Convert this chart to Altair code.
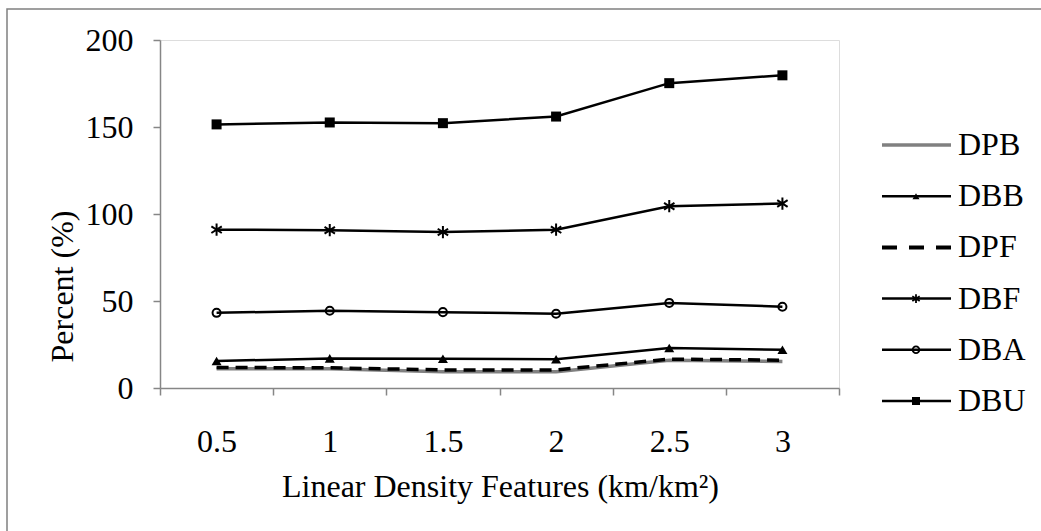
import altair as alt
import pandas as pd

categories = ["0.5", "1", "1.5", "2", "2.5", "3"]
series_names = ["DPB", "DBB", "DPF", "DBF", "DBA", "DBU"]
DPB = [11.0, 11.0, 9.3, 9.3, 16.0, 15.2]
DBB = [15.5, 17.0, 16.8, 16.5, 23.0, 22.0]
DPF = [11.8, 11.6, 10.4, 10.4, 16.6, 16.0]
DBF = [91.0, 90.7, 89.6, 91.0, 104.5, 106.0]
DBA = [43.2, 44.4, 43.6, 42.7, 48.9, 46.7]
DBU = [151.5, 152.6, 152.2, 156.0, 175.2, 179.7]
values = {"DPB": DPB, "DBB": DBB, "DPF": DPF, "DBF": DBF, "DBA": DBA, "DBU": DBU}

FONT = "Liberation Serif"
FS = 32
AXIS_GRAY = "#868686"
ASTER = "M0,-1L0,1M-0.85,-0.55L0.85,0.55M-0.85,0.55L0.85,-0.55"

styles = {
    "DPB": dict(color="#808080", width=3.5, dash=None, shape=None),
    "DBB": dict(color="black", width=2.5, dash=None, shape="triangle-up", filled=True, size=100, lsize=50),
    "DPF": dict(color="black", width=3.5, dash=[12, 7], shape=None),
    "DBF": dict(color="black", width=2.5, dash=None, shape=ASTER, filled=False, size=150, lsize=75),
    "DBA": dict(color="black", width=2.5, dash=None, shape="circle", filled=False, size=65, lsize=45),
    "DBU": dict(color="black", width=2.5, dash=None, shape="square", filled=True, size=100, lsize=65),
}
legend_dash = {"DPF": [15, 12]}
legend_width = {"DPB": 3.5, "DPF": 4}

x_enc = alt.X("x:N", sort=categories,
              scale=alt.Scale(type="band", domain=categories, paddingInner=0, paddingOuter=0),
              axis=alt.Axis(title="Linear Density Features (km/km²)", tickBand="extent",
                            labelAngle=0, labelFont=FONT, labelFontSize=FS, labelColor="black",
                            labelPadding=31, titleFont=FONT, titleFontSize=FS, titleFontWeight="normal",
                            titleColor="black", titleX=340, titleY=98, titleAlign="center",
                            titleBaseline="middle", domainColor=AXIS_GRAY, domainWidth=1.5,
                            tickColor=AXIS_GRAY, tickWidth=1.5, tickSize=7, grid=False))
y_enc = alt.Y("v:Q", scale=alt.Scale(domain=[0, 200], nice=False),
              axis=alt.Axis(title="Percent (%)", values=[0, 50, 100, 150, 200],
                            labelFont=FONT, labelFontSize=FS, labelColor="black", labelPadding=20,
                            titleFont=FONT, titleFontSize=FS, titleFontWeight="normal",
                            titleColor="black", titleX=-98, titleY=246, titleAlign="center",
                            titleBaseline="middle", titleAngle=-90,
                            domainColor=AXIS_GRAY, domainWidth=1.5, tickColor=AXIS_GRAY,
                            tickWidth=1.5, tickSize=7, grid=False))

main_layers = []
for name in series_names:
    st = styles[name]
    df = pd.DataFrame({"x": categories, "v": values[name]})
    lk = dict(color=st["color"], strokeWidth=st["width"], interpolate="linear", clip=False)
    if st["dash"]:
        lk["strokeDash"] = st["dash"]
    main_layers.append(alt.Chart(df).mark_line(**lk).encode(x=x_enc, y=y_enc))
    if st["shape"]:
        pk = dict(shape=st["shape"], size=st["size"], opacity=1, color="black",
                  filled=st["filled"], strokeWidth=2)
        main_layers.append(alt.Chart(df).mark_point(**pk).encode(x=x_enc, y=y_enc))

main = alt.layer(*main_layers)

leg_scale = alt.Scale(type="point", domain=series_names, range=[105, 361], padding=0)
leg_y = alt.Y("s:N", scale=leg_scale, axis=None)
leg_layers = []
for name in series_names:
    st = styles[name]
    ldf = pd.DataFrame({"s": [name]})
    rk = dict(color=st["color"], strokeWidth=legend_width.get(name, 2.5))
    d = legend_dash.get(name, st["dash"])
    if d:
        rk["strokeDash"] = d
    leg_layers.append(alt.Chart(ldf).mark_rule(**rk).encode(
        x=alt.value(722), x2=alt.value(791), y=leg_y))
    if st["shape"]:
        leg_layers.append(alt.Chart(ldf).mark_point(
            shape=st["shape"], size=st["lsize"], opacity=1, color="black",
            filled=st["filled"], strokeWidth=1.8).encode(x=alt.value(756), y=leg_y))
    leg_layers.append(alt.Chart(ldf).mark_text(
        align="left", baseline="middle", font=FONT, fontSize=FS, color="black").encode(
        x=alt.value(798), y=leg_y, text="s:N"))

border = alt.Chart(pd.DataFrame({"s": ["DPB"]})).mark_rect(
    fill=None, stroke="#808080", strokeWidth=1.5).encode(
    x=alt.value(-153), x2=alt.value(1000), y=alt.value(-31), y2=alt.value(600))

legend = alt.layer(*leg_layers)

chart = alt.layer(border, main, legend).resolve_scale(y="independent").properties(
    width=679, height=348,
    autosize=alt.AutoSizeParams(type="none"),
    padding={"left": 160, "top": 40, "right": 202, "bottom": 143},
).configure_view(stroke=None).configure(background="white")

chart.save("out.html", embed_options={"renderer": "svg", "actions": False})
